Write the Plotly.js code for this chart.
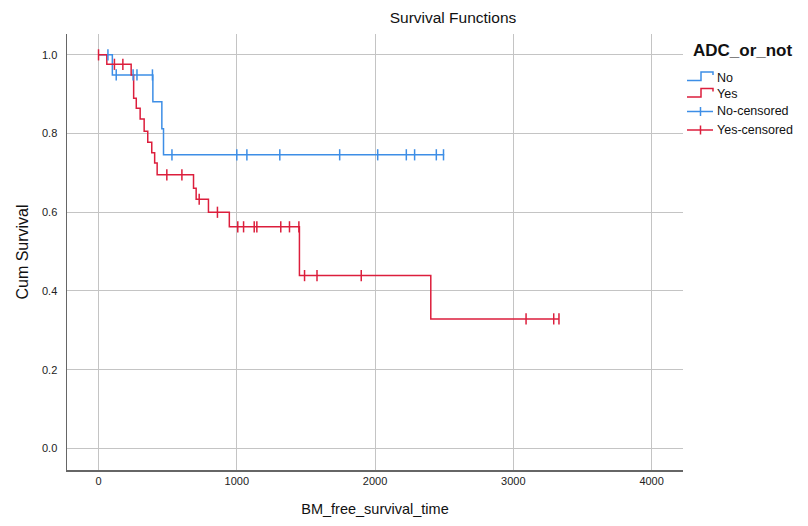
<!DOCTYPE html>
<html>
<head>
<meta charset="utf-8">
<script src="https://cdn.plot.ly/plotly-3.0.1.min.js"></script>
<style>html,body{margin:0;padding:0;background:#fff;}#chart{width:808px;height:526px;}</style>
</head>
<body>
<div id="chart"></div>
<script>
// ---- data ----
const noTimes = [0, 100, 393, 458, 470];
const noSurv  = [1.0, 0.949, 0.881, 0.812, 0.746];
const noEnd   = 2500;
const noCensored = [68, 128, 250, 278, 390, 531, 1000, 1073, 1311, 1744, 2019, 2226, 2286, 2443, 2495];

const yesTimes = [0, 60, 236, 254, 273, 301, 330, 356, 385, 406, 424, 687, 706, 795, 946, 1453, 2403];
const yesSurv  = [1.0, 0.976, 0.949, 0.890, 0.864, 0.837, 0.806, 0.778, 0.751, 0.725, 0.695, 0.661, 0.633, 0.600, 0.563, 0.439, 0.329];
const yesEnd   = 3330;
const yesCensored = [0, 115, 176, 494, 603, 728, 860, 1007, 1049, 1126, 1145, 1318, 1381, 1449, 1490, 1580, 1900, 3092, 3292, 3330];

const legendTitle = 'ADC_or_not';
const legendLabels = ['No', 'Yes', 'No-censored', 'Yes-censored'];
const xTicks = [0, 1000, 2000, 3000, 4000];
const yTicks = [0.0, 0.2, 0.4, 0.6, 0.8, 1.0];

// ---- styles ----
const BLUE = '#3d8ee6';
const RED = '#dc1e3c';
const FONT = 'Liberation Sans, Arial, sans-serif';

function stepAt(times, surv, t) {
  let v = surv[0];
  for (let i = 0; i < times.length; i++) { if (times[i] <= t) v = surv[i]; }
  return v;
}
function curve(times, surv, end) {
  return { x: times.concat([end]), y: surv.concat([surv[surv.length - 1]]) };
}

const noC = curve(noTimes, noSurv, noEnd);
const yesC = curve(yesTimes, yesSurv, yesEnd);

const traces = [
  { x: noC.x, y: noC.y, mode: 'lines', line: { shape: 'hv', color: BLUE, width: 1.5 }, name: 'No', showlegend: false, hoverinfo: 'skip' },
  { x: yesC.x, y: yesC.y, mode: 'lines', line: { shape: 'hv', color: RED, width: 1.5 }, name: 'Yes', showlegend: false, hoverinfo: 'skip' },
  { x: noCensored, y: noCensored.map(t => stepAt(noTimes, noSurv, t)), mode: 'markers', cliponaxis: false,
    marker: { symbol: 'line-ns-open', size: 8, color: BLUE, line: { color: BLUE, width: 1.5 } }, name: 'No-censored', showlegend: false, hoverinfo: 'skip' },
  { x: yesCensored, y: yesCensored.map(t => stepAt(yesTimes, yesSurv, t)), mode: 'markers', cliponaxis: false,
    marker: { symbol: 'line-ns-open', size: 8, color: RED, line: { color: RED, width: 1.5 } }, name: 'Yes-censored', showlegend: false, hoverinfo: 'skip' }
];

// ---- layout geometry ----
const W = 808, H = 526, L = 67, R = 125, T = 34, B = 56;
const pw = W - L - R, ph = H - T - B;
const px = x => (x - L) / pw;
const py = y => (H - B - y) / ph;

const rowsY = [77.5, 94, 111.5, 130];
const rowColors = [BLUE, RED, BLUE, RED];
const shapes = [];
const annotations = [];

annotations.push({ xref: 'paper', yref: 'paper', x: px(691), y: py(50), xanchor: 'left', yanchor: 'middle',
  text: '<b>' + legendTitle + '</b>', showarrow: false, font: { family: FONT, size: 17, color: '#111' } });

legendLabels.forEach((lab, i) => {
  const y = rowsY[i], c = rowColors[i];
  if (i < 2) {
    const p = 'M' + px(687) + ',' + py(y + 3) + ' L' + px(701) + ',' + py(y + 3) + ' L' + px(701) + ',' + py(y - 5.5) +
              ' L' + px(713) + ',' + py(y - 5.5) + ' L' + px(713) + ',' + py(y - 2.5);
    shapes.push({ type: 'path', xref: 'paper', yref: 'paper', path: p, line: { color: c, width: 1.5 } });
  } else {
    shapes.push({ type: 'line', xref: 'paper', yref: 'paper', x0: px(687), x1: px(713), y0: py(y), y1: py(y), line: { color: c, width: 1.5 } });
    shapes.push({ type: 'line', xref: 'paper', yref: 'paper', x0: px(700.5), x1: px(700.5), y0: py(y - 4.5), y1: py(y + 4.5), line: { color: c, width: 1.5 } });
  }
  annotations.push({ xref: 'paper', yref: 'paper', x: px(715), y: py(y), xanchor: 'left', yanchor: 'middle',
    text: lab, showarrow: false, font: { family: FONT, size: 12.5, color: '#111' } });
});

const layout = {
  width: W, height: H,
  margin: { l: L, r: R, t: T, b: B, pad: 0 },
  paper_bgcolor: '#fff', plot_bgcolor: '#fff',
  font: { family: FONT, color: '#111' },
  showlegend: false,
  title: { text: 'Survival Functions', font: { family: FONT, size: 15.5, color: '#111' },
           xref: 'container', yref: 'container', x: 453 / W, y: 1 - 18 / H, xanchor: 'center', yanchor: 'middle' },
  xaxis: {
    range: [-228, 4227], tickvals: xTicks, ticktext: xTicks.map(String),
    showgrid: true, gridcolor: '#c4c4c4', gridwidth: 1, zeroline: false,
    showline: true, linecolor: '#666', linewidth: 1.5, ticks: '',
    tickfont: { family: FONT, size: 11, color: '#222' },
    title: { text: 'BM_free_survival_time', font: { family: FONT, size: 14.5, color: '#111' }, standoff: 18 }
  },
  yaxis: {
    range: [-0.055, 1.053], tickvals: yTicks, ticktext: yTicks.map(v => v.toFixed(1)),
    showgrid: true, gridcolor: '#c4c4c4', gridwidth: 1, zeroline: false,
    showline: true, linecolor: '#666', linewidth: 1.5, ticks: '', ticklabelstandoff: 6,
    tickfont: { family: FONT, size: 11, color: '#222' },
    title: { text: 'Cum Survival', font: { family: FONT, size: 16, color: '#111' }, standoff: 9 }
  },
  shapes: shapes,
  annotations: annotations
};

Plotly.newPlot('chart', traces, layout, { staticPlot: true, displayModeBar: false });
</script>
</body>
</html>
